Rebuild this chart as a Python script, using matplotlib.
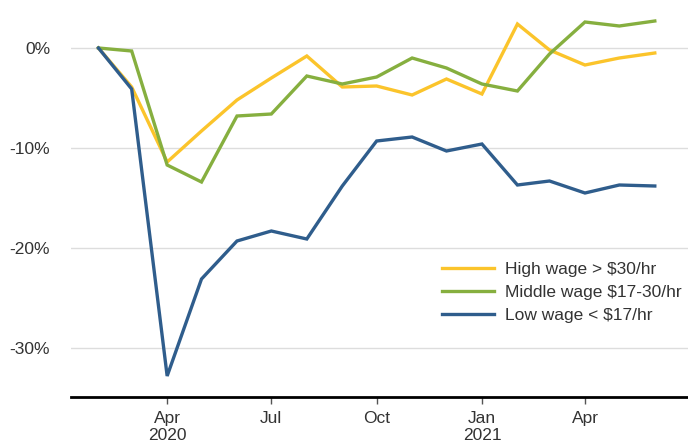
import numpy as np
import pandas as pd
import matplotlib
matplotlib.use("Agg")
import matplotlib.pyplot as plt

plt.rcParams['font.family'] = ['Liberation Sans', 'DejaVu Sans']

# monthly change in employment vs. Jan 2020, in percent
months = pd.date_range('2020-02-01', '2021-06-01', freq='MS')
high_wage = [0.0, -3.9, -11.4, -8.3, -5.2, -3.0, -0.8, -3.9, -3.8, -4.7,
             -3.1, -4.6, 2.4, -0.2, -1.7, -1.0, -0.5]
middle_wage = [0.0, -0.3, -11.7, -13.4, -6.8, -6.6, -2.8, -3.6, -2.9, -1.0,
               -2.0, -3.6, -4.3, -0.6, 2.6, 2.2, 2.7]
low_wage = [0.0, -4.1, -32.8, -23.1, -19.3, -18.3, -19.1, -13.8, -9.3, -8.9,
            -10.3, -9.6, -13.7, -13.3, -14.5, -13.7, -13.8]
labels = ['High wage > $30/hr', 'Middle wage $17-30/hr', 'Low wage < $17/hr']
colors = ['#FBC42B', '#86AF3F', '#2F5D8C']

tick_dates = pd.to_datetime(['2020-04-01', '2020-07-01', '2020-10-01',
                             '2021-01-01', '2021-04-01'])
tick_labels = ['Apr\n2020', 'Jul', 'Oct', 'Jan\n2021', 'Apr']
y_ticks = [0, -10, -20, -30]

fig = plt.figure(figsize=(6.88, 4.47), dpi=100)
ax = fig.add_axes([71 / 688, 50 / 447, 617 / 688, 387 / 447])

for vals, lab, col in zip([high_wage, middle_wage, low_wage], labels, colors):
    ax.plot(months, vals, color=col, lw=2.4, label=lab, solid_joinstyle='miter')

ax.set_xlim(pd.Timestamp('2020-01-08'), pd.Timestamp('2021-06-30'))
ax.set_ylim(-34.9, 3.8)

ax.set_xticks(tick_dates)
ax.set_xticklabels(tick_labels, linespacing=1.15)
ax.set_yticks(y_ticks)
ax.set_yticklabels([f'{v}%' for v in y_ticks])

ax.grid(axis='y', color='#dddddd', lw=1)
ax.set_axisbelow(True)
for s in ['top', 'right', 'left']:
    ax.spines[s].set_visible(False)
ax.spines['bottom'].set_color('black')
ax.spines['bottom'].set_linewidth(2)

ax.tick_params(axis='y', length=0, pad=15, labelsize=12.5, labelcolor='#333333')
ax.tick_params(axis='x', length=5, width=1, color='#555555', pad=5,
               labelsize=12.5, labelcolor='#333333')

ax.legend(loc='upper left', bbox_to_anchor=(442 / 688, (447 - 262) / 447),
          bbox_transform=fig.transFigure, frameon=False, borderpad=0,
          borderaxespad=0, handlelength=3.0, handletextpad=0.63,
          labelspacing=0.45, fontsize=12.5, labelcolor='#333333')

fig.savefig('out.png', dpi=100)
